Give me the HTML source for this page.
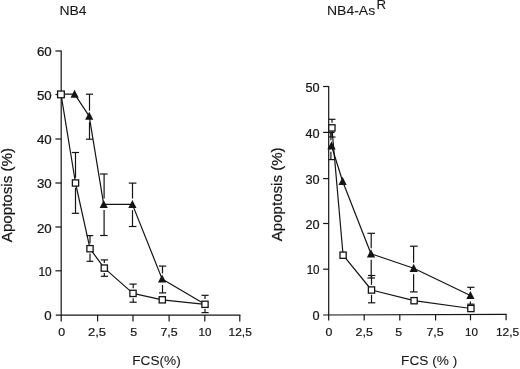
<!DOCTYPE html>
<html lang="en">
<head>
<meta charset="utf-8">
<title>Apoptosis vs FCS</title>
<style>
html,body{margin:0;padding:0;background:#fff;}
body{width:520px;height:369px;overflow:hidden;}
svg{display:block;}
text{font-family:"Liberation Sans",sans-serif;fill:#161616;stroke:#161616;stroke-width:0.22px;}
text.t{stroke-width:0.08px;}
</style>
</head>
<body>
<svg width="520" height="369" viewBox="0 0 520 369">
<rect width="520" height="369" fill="#fff"/>
<line x1="61.2" y1="50.4" x2="61.2" y2="321.5" stroke="#141414" stroke-width="1.2"/>
<line x1="55.800000000000004" y1="315.1" x2="240.4" y2="315.1" stroke="#141414" stroke-width="1.2"/>
<line x1="55.400000000000006" y1="51" x2="61.2" y2="51" stroke="#141414" stroke-width="1.2"/>
<line x1="55.400000000000006" y1="94.5" x2="61.2" y2="94.5" stroke="#141414" stroke-width="1.2"/>
<line x1="55.400000000000006" y1="139" x2="61.2" y2="139" stroke="#141414" stroke-width="1.2"/>
<line x1="55.400000000000006" y1="183" x2="61.2" y2="183" stroke="#141414" stroke-width="1.2"/>
<line x1="55.400000000000006" y1="227" x2="61.2" y2="227" stroke="#141414" stroke-width="1.2"/>
<line x1="55.400000000000006" y1="270.8" x2="61.2" y2="270.8" stroke="#141414" stroke-width="1.2"/>
<line x1="97.6" y1="315.1" x2="97.6" y2="321.5" stroke="#141414" stroke-width="1.2"/>
<line x1="133" y1="315.1" x2="133" y2="321.5" stroke="#141414" stroke-width="1.2"/>
<line x1="169.1" y1="315.1" x2="169.1" y2="321.5" stroke="#141414" stroke-width="1.2"/>
<line x1="204.8" y1="315.1" x2="204.8" y2="321.5" stroke="#141414" stroke-width="1.2"/>
<line x1="239.8" y1="315.1" x2="239.8" y2="321.5" stroke="#141414" stroke-width="1.2"/>
<text transform="translate(51.7,55.8) scale(1.12,1)" font-size="11.9" text-anchor="end">60</text>
<text transform="translate(51.7,100.0) scale(1.12,1)" font-size="11.9" text-anchor="end">50</text>
<text transform="translate(51.7,144.4) scale(1.12,1)" font-size="11.9" text-anchor="end">40</text>
<text transform="translate(51.7,187.9) scale(1.12,1)" font-size="11.9" text-anchor="end">30</text>
<text transform="translate(51.7,232.5) scale(1.12,1)" font-size="11.9" text-anchor="end">20</text>
<text transform="translate(51.7,276.3) scale(1.0,1)" font-size="11.9" text-anchor="end">10</text>
<text transform="translate(51.7,319.9) scale(1.12,1)" font-size="11.9" text-anchor="end">0</text>
<text transform="translate(61.6,335.5) scale(1.07,1)" font-size="11.6" text-anchor="middle">0</text>
<text transform="translate(97.0,335.5) scale(1.12,1)" font-size="11.6" text-anchor="middle">2,5</text>
<text transform="translate(133.7,335.5) scale(1.07,1)" font-size="11.6" text-anchor="middle">5</text>
<text transform="translate(169.1,335.5) scale(1.07,1)" font-size="11.6" text-anchor="middle">7,5</text>
<text transform="translate(205.0,335.5) scale(1.0,1)" font-size="11.6" text-anchor="middle">10</text>
<text transform="translate(240.2,335.5) scale(1.03,1)" font-size="11.6" text-anchor="middle">12,5</text>
<text x="59.4" y="14.9" font-size="12.4" text-anchor="start" textLength="27.2" lengthAdjust="spacingAndGlyphs" class="t">NB4</text>
<text x="132.2" y="365.3" font-size="13.4" text-anchor="start" textLength="48.6" lengthAdjust="spacingAndGlyphs" class="t">FCS(%)</text>
<text transform="translate(12,242.2) rotate(-90)" font-size="14" textLength="94.2" lengthAdjust="spacingAndGlyphs">Apoptosis (%)</text>
<line x1="85.9" y1="94.2" x2="93.1" y2="94.2" stroke="#141414" stroke-width="1.2"/>
<line x1="89.5" y1="94.2" x2="89.5" y2="110.7" stroke="#141414" stroke-width="1.2"/>
<line x1="85.9" y1="139.2" x2="93.1" y2="139.2" stroke="#141414" stroke-width="1.2"/>
<line x1="89.5" y1="122.2" x2="89.5" y2="139.2" stroke="#141414" stroke-width="1.2"/>
<line x1="71.8" y1="152.5" x2="79.1" y2="152.5" stroke="#141414" stroke-width="1.2"/>
<line x1="75.5" y1="152.5" x2="75.5" y2="177.8" stroke="#141414" stroke-width="1.2"/>
<line x1="71.8" y1="213.3" x2="79.1" y2="213.3" stroke="#141414" stroke-width="1.2"/>
<line x1="75.5" y1="187.79999999999998" x2="75.5" y2="213.3" stroke="#141414" stroke-width="1.2"/>
<line x1="100.1" y1="174" x2="107.6" y2="174" stroke="#141414" stroke-width="1.2"/>
<line x1="104.1" y1="174" x2="104.1" y2="198.6" stroke="#141414" stroke-width="1.2"/>
<line x1="100.1" y1="235.5" x2="107.6" y2="235.5" stroke="#141414" stroke-width="1.2"/>
<line x1="104.1" y1="210.1" x2="104.1" y2="235.5" stroke="#141414" stroke-width="1.2"/>
<line x1="86.6" y1="235.6" x2="93.3" y2="235.6" stroke="#141414" stroke-width="1.2"/>
<line x1="90" y1="235.6" x2="90" y2="243.5" stroke="#141414" stroke-width="1.2"/>
<line x1="86.6" y1="261.3" x2="93.3" y2="261.3" stroke="#141414" stroke-width="1.2"/>
<line x1="90" y1="253.49999999999997" x2="90" y2="261.3" stroke="#141414" stroke-width="1.2"/>
<line x1="100.8" y1="259.9" x2="108" y2="259.9" stroke="#141414" stroke-width="1.2"/>
<line x1="104.3" y1="259.9" x2="104.3" y2="262.9" stroke="#141414" stroke-width="1.2"/>
<line x1="100.8" y1="276.3" x2="108" y2="276.3" stroke="#141414" stroke-width="1.2"/>
<line x1="104.3" y1="272.90000000000003" x2="104.3" y2="276.3" stroke="#141414" stroke-width="1.2"/>
<line x1="128.8" y1="183.1" x2="136.4" y2="183.1" stroke="#141414" stroke-width="1.2"/>
<line x1="132.5" y1="183.1" x2="132.5" y2="198.6" stroke="#141414" stroke-width="1.2"/>
<line x1="128.8" y1="226.5" x2="136.4" y2="226.5" stroke="#141414" stroke-width="1.2"/>
<line x1="132.5" y1="210.1" x2="132.5" y2="226.5" stroke="#141414" stroke-width="1.2"/>
<line x1="129.5" y1="284.1" x2="136.7" y2="284.1" stroke="#141414" stroke-width="1.2"/>
<line x1="133.2" y1="284.1" x2="133.2" y2="288.19999999999993" stroke="#141414" stroke-width="1.2"/>
<line x1="129.5" y1="302.2" x2="136.7" y2="302.2" stroke="#141414" stroke-width="1.2"/>
<line x1="133.2" y1="298.2" x2="133.2" y2="302.2" stroke="#141414" stroke-width="1.2"/>
<line x1="159" y1="266.1" x2="166.2" y2="266.1" stroke="#141414" stroke-width="1.2"/>
<line x1="162.5" y1="266.1" x2="162.5" y2="273.4" stroke="#141414" stroke-width="1.2"/>
<line x1="159" y1="292.9" x2="166.2" y2="292.9" stroke="#141414" stroke-width="1.2"/>
<line x1="162.5" y1="284.9" x2="162.5" y2="292.9" stroke="#141414" stroke-width="1.2"/>
<line x1="201.5" y1="295.3" x2="208.6" y2="295.3" stroke="#141414" stroke-width="1.2"/>
<line x1="205" y1="295.3" x2="205" y2="299.09999999999997" stroke="#141414" stroke-width="1.2"/>
<line x1="201.5" y1="312.6" x2="208.6" y2="312.6" stroke="#141414" stroke-width="1.2"/>
<line x1="205" y1="309.1" x2="205" y2="312.6" stroke="#141414" stroke-width="1.2"/>
<polyline points="61,94.1 75.5,183 90,248.7 104.3,268.1 133,293.4 162.3,299.8 205,304.3" fill="none" stroke="#141414" stroke-width="1.2" stroke-linejoin="round"/>
<polyline points="61,94.1 74.6,94.2 89.2,116.2 103.7,204.4 132.4,204.4 162.1,278.9 205,304.3" fill="none" stroke="#141414" stroke-width="1.2" stroke-linejoin="round"/>
<polygon points="74.60,89.70 78.70,97.80 70.50,97.80" fill="#141414"/>
<polygon points="89.20,111.70 93.30,119.80 85.10,119.80" fill="#141414"/>
<polygon points="103.70,199.90 107.80,208.00 99.60,208.00" fill="#141414"/>
<polygon points="132.40,199.90 136.50,208.00 128.30,208.00" fill="#141414"/>
<polygon points="162.10,274.40 166.20,282.50 158.00,282.50" fill="#141414"/>
<rect x="72.38" y="179.88" width="6.25" height="6.25" fill="#fff" stroke="#141414" stroke-width="1.3"/>
<rect x="86.88" y="245.57" width="6.25" height="6.25" fill="#fff" stroke="#141414" stroke-width="1.3"/>
<rect x="101.17" y="264.98" width="6.25" height="6.25" fill="#fff" stroke="#141414" stroke-width="1.3"/>
<rect x="129.88" y="290.27" width="6.25" height="6.25" fill="#fff" stroke="#141414" stroke-width="1.3"/>
<rect x="159.18" y="296.68" width="6.25" height="6.25" fill="#fff" stroke="#141414" stroke-width="1.3"/>
<rect x="201.88" y="301.18" width="6.25" height="6.25" fill="#fff" stroke="#141414" stroke-width="1.3"/>
<rect x="57.60" y="91.05" width="6.7" height="6.7" fill="#fff" stroke="#141414" stroke-width="1.3"/>
<line x1="328.7" y1="86.0" x2="328.7" y2="320.5" stroke="#141414" stroke-width="1.2"/>
<line x1="323.09999999999997" y1="315.0" x2="506.6" y2="314.4" stroke="#141414" stroke-width="1.2"/>
<line x1="323.09999999999997" y1="86.5" x2="328.7" y2="86.5" stroke="#141414" stroke-width="1.2"/>
<line x1="323.09999999999997" y1="132.4" x2="328.7" y2="132.4" stroke="#141414" stroke-width="1.2"/>
<line x1="323.09999999999997" y1="178.6" x2="328.7" y2="178.6" stroke="#141414" stroke-width="1.2"/>
<line x1="323.09999999999997" y1="223.5" x2="328.7" y2="223.5" stroke="#141414" stroke-width="1.2"/>
<line x1="323.09999999999997" y1="269.2" x2="328.7" y2="269.2" stroke="#141414" stroke-width="1.2"/>
<line x1="364.2" y1="314.8002808988764" x2="364.2" y2="320.6002808988764" stroke="#141414" stroke-width="1.2"/>
<line x1="399.8" y1="314.7002808988764" x2="399.8" y2="320.5002808988764" stroke="#141414" stroke-width="1.2"/>
<line x1="435.6" y1="314.5997191011236" x2="435.6" y2="320.3997191011236" stroke="#141414" stroke-width="1.2"/>
<line x1="470.5" y1="314.5016853932584" x2="470.5" y2="320.3016853932584" stroke="#141414" stroke-width="1.2"/>
<line x1="506.1" y1="314.4016853932584" x2="506.1" y2="320.2016853932584" stroke="#141414" stroke-width="1.2"/>
<text transform="translate(319.6,92.39999999999999) scale(1.07,1)" font-size="11.9" text-anchor="end">50</text>
<text transform="translate(319.6,138.0) scale(1.07,1)" font-size="11.9" text-anchor="end">40</text>
<text transform="translate(319.6,183.89999999999998) scale(1.07,1)" font-size="11.9" text-anchor="end">30</text>
<text transform="translate(319.6,229.1) scale(1.07,1)" font-size="11.9" text-anchor="end">20</text>
<text transform="translate(319.6,273.8) scale(0.98,1)" font-size="11.9" text-anchor="end">10</text>
<text transform="translate(319.6,319.5) scale(1.07,1)" font-size="11.9" text-anchor="end">0</text>
<text transform="translate(328.9,335.5) scale(1.07,1)" font-size="11.6" text-anchor="middle">0</text>
<text transform="translate(364.2,335.5) scale(1.07,1)" font-size="11.6" text-anchor="middle">2,5</text>
<text transform="translate(398.8,335.5) scale(1.07,1)" font-size="11.6" text-anchor="middle">5</text>
<text transform="translate(435.0,335.5) scale(1.07,1)" font-size="11.6" text-anchor="middle">7,5</text>
<text transform="translate(471.4,335.5) scale(1.0,1)" font-size="11.6" text-anchor="middle">10</text>
<text transform="translate(507.6,335.5) scale(1.03,1)" font-size="11.6" text-anchor="middle">12,5</text>
<text x="327.0" y="15.2" font-size="12.2" text-anchor="start" textLength="48.2" lengthAdjust="spacingAndGlyphs" class="t">NB4-As</text>
<text x="376.4" y="9.2" font-size="12.2" text-anchor="start" textLength="9.6" lengthAdjust="spacingAndGlyphs" class="t">R</text>
<text class="t" x="401.1" y="364.7" font-size="13.4" xml:space="preserve" textLength="56.3" lengthAdjust="spacingAndGlyphs">FCS (% )</text>
<text transform="translate(282,241.2) rotate(-90)" font-size="14" textLength="93.8" lengthAdjust="spacingAndGlyphs">Apoptosis (%)</text>
<line x1="328.7" y1="119.3" x2="335.5" y2="119.3" stroke="#141414" stroke-width="1.2"/>
<line x1="332.0" y1="119.3" x2="332.0" y2="122.70000000000002" stroke="#141414" stroke-width="1.2"/>
<line x1="328.7" y1="137" x2="335.5" y2="137" stroke="#141414" stroke-width="1.2"/>
<line x1="331.0" y1="132.7" x2="331.0" y2="137" stroke="#141414" stroke-width="1.2"/>
<line x1="328.7" y1="132.5" x2="334.6" y2="132.5" stroke="#141414" stroke-width="1.2"/>
<line x1="330.9" y1="132.5" x2="330.9" y2="140.3" stroke="#141414" stroke-width="1.2"/>
<line x1="328.7" y1="159.6" x2="334.6" y2="159.6" stroke="#141414" stroke-width="1.2"/>
<line x1="330.9" y1="151.8" x2="330.9" y2="159.6" stroke="#141414" stroke-width="1.2"/>
<line x1="367.4" y1="233.3" x2="375" y2="233.3" stroke="#141414" stroke-width="1.2"/>
<line x1="371.2" y1="233.3" x2="371.2" y2="248.3" stroke="#141414" stroke-width="1.2"/>
<line x1="367.4" y1="278" x2="375" y2="278" stroke="#141414" stroke-width="1.2"/>
<line x1="371.2" y1="259.8" x2="371.2" y2="278" stroke="#141414" stroke-width="1.2"/>
<line x1="368" y1="275.5" x2="375.3" y2="275.5" stroke="#141414" stroke-width="1.2"/>
<line x1="371.5" y1="275.5" x2="371.5" y2="284.79999999999995" stroke="#141414" stroke-width="1.2"/>
<line x1="368" y1="302.8" x2="375.3" y2="302.8" stroke="#141414" stroke-width="1.2"/>
<line x1="371.5" y1="294.8" x2="371.5" y2="302.8" stroke="#141414" stroke-width="1.2"/>
<line x1="410" y1="246.2" x2="417.7" y2="246.2" stroke="#141414" stroke-width="1.2"/>
<line x1="413.6" y1="246.2" x2="413.6" y2="262.8" stroke="#141414" stroke-width="1.2"/>
<line x1="410" y1="291.9" x2="417.7" y2="291.9" stroke="#141414" stroke-width="1.2"/>
<line x1="413.6" y1="274.3" x2="413.6" y2="291.9" stroke="#141414" stroke-width="1.2"/>
<line x1="467.2" y1="287.3" x2="474.5" y2="287.3" stroke="#141414" stroke-width="1.2"/>
<line x1="470.4" y1="287.3" x2="470.4" y2="290.0" stroke="#141414" stroke-width="1.2"/>
<line x1="467.2" y1="304.2" x2="474.5" y2="304.2" stroke="#141414" stroke-width="1.2"/>
<line x1="470.4" y1="301.5" x2="470.4" y2="304.2" stroke="#141414" stroke-width="1.2"/>
<polyline points="331.9,127.9 343.1,255.2 371.5,290 414.1,300.7 470.9,308.5" fill="none" stroke="#141414" stroke-width="1.2" stroke-linejoin="round"/>
<polyline points="331.5,145.8 342.6,181.3 371,253.8 413.7,268.3 470.4,295.5" fill="none" stroke="#141414" stroke-width="1.2" stroke-linejoin="round"/>
<polygon points="331.50,141.30 335.60,149.40 327.40,149.40" fill="#141414"/>
<polygon points="342.60,176.80 346.70,184.90 338.50,184.90" fill="#141414"/>
<polygon points="371.00,249.30 375.10,257.40 366.90,257.40" fill="#141414"/>
<polygon points="413.70,263.80 417.80,271.90 409.60,271.90" fill="#141414"/>
<polygon points="470.40,291.00 474.50,299.10 466.30,299.10" fill="#141414"/>
<rect x="328.77" y="124.78" width="6.25" height="6.25" fill="#fff" stroke="#141414" stroke-width="1.3"/>
<rect x="339.98" y="252.07" width="6.25" height="6.25" fill="#fff" stroke="#141414" stroke-width="1.3"/>
<rect x="368.38" y="286.88" width="6.25" height="6.25" fill="#fff" stroke="#141414" stroke-width="1.3"/>
<rect x="410.98" y="297.57" width="6.25" height="6.25" fill="#fff" stroke="#141414" stroke-width="1.3"/>
<rect x="467.77" y="305.38" width="6.25" height="6.25" fill="#fff" stroke="#141414" stroke-width="1.3"/>
</svg>
</body>
</html>
